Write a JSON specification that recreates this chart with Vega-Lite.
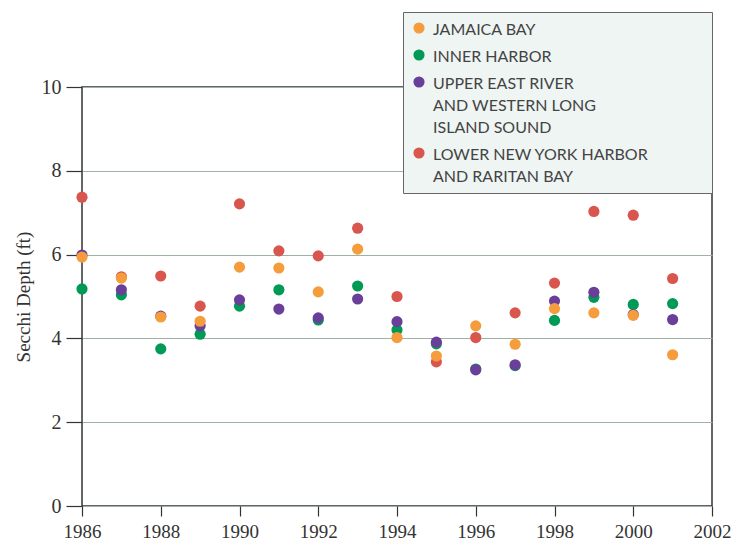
{
  "$schema": "https://vega.github.io/schema/vega-lite/v6.json",
  "autosize": {"type": "none"},
  "padding": {"left": 82, "top": 87, "right": 40, "bottom": 43},
  "width": 630,
  "height": 419,
  "background": "white",
  "view": {"stroke": "#333333", "strokeWidth": 1.5},
  "config": {"style": {"guide-label": {"lineHeight": 22, "dy": -6}}},
  "data": {"values": [
    {"year": 1986, "region": "Inner Harbor", "depth": 5.18},
    {"year": 1987, "region": "Inner Harbor", "depth": 5.04},
    {"year": 1988, "region": "Inner Harbor", "depth": 3.75},
    {"year": 1989, "region": "Inner Harbor", "depth": 4.10},
    {"year": 1990, "region": "Inner Harbor", "depth": 4.77},
    {"year": 1991, "region": "Inner Harbor", "depth": 5.16},
    {"year": 1992, "region": "Inner Harbor", "depth": 4.44},
    {"year": 1993, "region": "Inner Harbor", "depth": 5.25},
    {"year": 1994, "region": "Inner Harbor", "depth": 4.20},
    {"year": 1995, "region": "Inner Harbor", "depth": 3.87},
    {"year": 1996, "region": "Inner Harbor", "depth": 3.27},
    {"year": 1997, "region": "Inner Harbor", "depth": 3.35},
    {"year": 1998, "region": "Inner Harbor", "depth": 4.43},
    {"year": 1999, "region": "Inner Harbor", "depth": 4.98},
    {"year": 2000, "region": "Inner Harbor", "depth": 4.81},
    {"year": 2001, "region": "Inner Harbor", "depth": 4.83},
    {"year": 1986, "region": "Upper East River|and Western Long|Island Sound", "depth": 5.99},
    {"year": 1987, "region": "Upper East River|and Western Long|Island Sound", "depth": 5.16},
    {"year": 1988, "region": "Upper East River|and Western Long|Island Sound", "depth": 4.53},
    {"year": 1989, "region": "Upper East River|and Western Long|Island Sound", "depth": 4.30},
    {"year": 1990, "region": "Upper East River|and Western Long|Island Sound", "depth": 4.92},
    {"year": 1991, "region": "Upper East River|and Western Long|Island Sound", "depth": 4.70},
    {"year": 1992, "region": "Upper East River|and Western Long|Island Sound", "depth": 4.49},
    {"year": 1993, "region": "Upper East River|and Western Long|Island Sound", "depth": 4.94},
    {"year": 1994, "region": "Upper East River|and Western Long|Island Sound", "depth": 4.40},
    {"year": 1995, "region": "Upper East River|and Western Long|Island Sound", "depth": 3.91},
    {"year": 1996, "region": "Upper East River|and Western Long|Island Sound", "depth": 3.25},
    {"year": 1997, "region": "Upper East River|and Western Long|Island Sound", "depth": 3.37},
    {"year": 1998, "region": "Upper East River|and Western Long|Island Sound", "depth": 4.89},
    {"year": 1999, "region": "Upper East River|and Western Long|Island Sound", "depth": 5.10},
    {"year": 2000, "region": "Upper East River|and Western Long|Island Sound", "depth": 4.57},
    {"year": 2001, "region": "Upper East River|and Western Long|Island Sound", "depth": 4.45},
    {"year": 1986, "region": "Lower New York Harbor|and Raritan Bay", "depth": 7.37},
    {"year": 1987, "region": "Lower New York Harbor|and Raritan Bay", "depth": 5.47},
    {"year": 1988, "region": "Lower New York Harbor|and Raritan Bay", "depth": 5.49},
    {"year": 1989, "region": "Lower New York Harbor|and Raritan Bay", "depth": 4.77},
    {"year": 1990, "region": "Lower New York Harbor|and Raritan Bay", "depth": 7.21},
    {"year": 1991, "region": "Lower New York Harbor|and Raritan Bay", "depth": 6.09},
    {"year": 1992, "region": "Lower New York Harbor|and Raritan Bay", "depth": 5.97},
    {"year": 1993, "region": "Lower New York Harbor|and Raritan Bay", "depth": 6.63},
    {"year": 1994, "region": "Lower New York Harbor|and Raritan Bay", "depth": 5.00},
    {"year": 1995, "region": "Lower New York Harbor|and Raritan Bay", "depth": 3.44},
    {"year": 1996, "region": "Lower New York Harbor|and Raritan Bay", "depth": 4.02},
    {"year": 1997, "region": "Lower New York Harbor|and Raritan Bay", "depth": 4.61},
    {"year": 1998, "region": "Lower New York Harbor|and Raritan Bay", "depth": 5.32},
    {"year": 1999, "region": "Lower New York Harbor|and Raritan Bay", "depth": 7.03},
    {"year": 2000, "region": "Lower New York Harbor|and Raritan Bay", "depth": 6.94},
    {"year": 2001, "region": "Lower New York Harbor|and Raritan Bay", "depth": 5.43},
    {"year": 1986, "region": "Jamaica bay", "depth": 5.94},
    {"year": 1987, "region": "Jamaica bay", "depth": 5.44},
    {"year": 1988, "region": "Jamaica bay", "depth": 4.51},
    {"year": 1989, "region": "Jamaica bay", "depth": 4.41},
    {"year": 1990, "region": "Jamaica bay", "depth": 5.70},
    {"year": 1991, "region": "Jamaica bay", "depth": 5.68},
    {"year": 1992, "region": "Jamaica bay", "depth": 5.11},
    {"year": 1993, "region": "Jamaica bay", "depth": 6.13},
    {"year": 1994, "region": "Jamaica bay", "depth": 4.02},
    {"year": 1995, "region": "Jamaica bay", "depth": 3.58},
    {"year": 1996, "region": "Jamaica bay", "depth": 4.30},
    {"year": 1997, "region": "Jamaica bay", "depth": 3.86},
    {"year": 1998, "region": "Jamaica bay", "depth": 4.71},
    {"year": 1999, "region": "Jamaica bay", "depth": 4.61},
    {"year": 2000, "region": "Jamaica bay", "depth": 4.55},
    {"year": 2001, "region": "Jamaica bay", "depth": 3.61}
  ]},
  "mark": {"type": "point", "filled": true, "opacity": 1, "size": 125, "shape": "circle"},
  "encoding": {
    "x": {
      "field": "year", "type": "quantitative",
      "scale": {"domain": [1986, 2002], "nice": false, "zero": false},
      "axis": {
        "title": null, "values": [1986, 1988, 1990, 1992, 1994, 1996, 1998, 2000, 2002],
        "format": "d", "grid": false, "domain": false,
        "tickColor": "#333333", "tickSize": 10, "tickWidth": 1.2,
        "labelFont": "Liberation Serif", "labelFontSize": 19, "labelColor": "#333333",
        "labelPadding": 12, "labelFlush": false
      }
    },
    "y": {
      "field": "depth", "type": "quantitative",
      "scale": {"domain": [0, 10], "nice": false},
      "axis": {
        "title": "Secchi Depth (ft)", "values": [0, 2, 4, 6, 8, 10],
        "grid": true, "gridColor": "#9fb1a0", "gridWidth": 1.2, "domain": false,
        "tickColor": "#333333", "tickSize": 16, "tickWidth": 1.2,
        "labelFont": "Liberation Serif", "labelFontSize": 20, "labelColor": "#333333",
        "labelPadding": 5, "labelOffset": 6,
        "titleFont": "Liberation Serif", "titleFontSize": 19, "titleFontWeight": "normal",
        "titleColor": "#333333", "titlePadding": 8
      }
    },
    "color": {
      "field": "region", "type": "nominal",
      "scale": {
        "domain": ["Jamaica bay", "Inner Harbor", "Upper East River|and Western Long|Island Sound", "Lower New York Harbor|and Raritan Bay"],
        "range": ["#f59c3c", "#009a57", "#6a3f99", "#d9564f"]
      },
      "legend": {
        "title": " ", "titleOrient": "right", "titlePadding": 55,
        "orient": "none", "legendX": 321, "legendY": -75,
        "labelExpr": "split(upper(datum.label), '|')",
        "labelFont": "Lato", "labelFontSize": 16, "labelColor": "#444444",
        "labelLimit": 400, "labelOffset": 6, "labelBaseline": "top",
        "symbolType": "circle", "symbolSize": 125, "symbolStrokeWidth": 0,
        "rowPadding": 9, "padding": 8,
        "fillColor": "#eef5f3", "strokeColor": "#666666",
        "direction": "vertical",
        "encode": {
          "legend": {"update": {"strokeWidth": {"value": 1.5}}}
        }
      }
    }
  }
}
